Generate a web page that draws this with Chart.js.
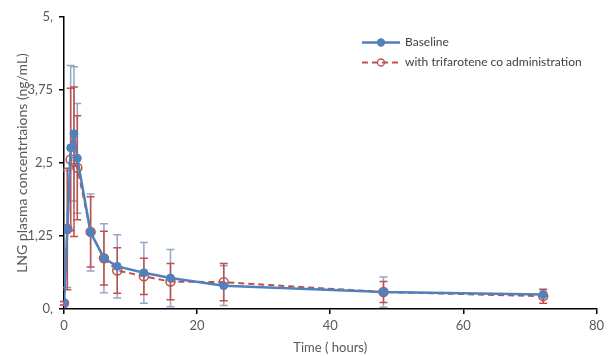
<!DOCTYPE html>
<html><head><meta charset="utf-8">
<script src="https://cdn.jsdelivr.net/npm/chart.js@4"></script>
<style>html,body{margin:0;padding:0;background:#fff}#wrap{width:608px;height:356px;position:relative}</style>
</head><body><div id="wrap"><canvas id="c"></canvas></div>
<script>
const timeHours = [0, 0.5, 1, 1.5, 2, 4, 6, 8, 12, 16, 24, 48, 72];
const baselineMean = [0.10, 1.37, 2.76, 3.00, 2.58, 1.31, 0.87, 0.73, 0.62, 0.53, 0.40, 0.29, 0.25];
const baselineSD   = [0.03, 1.00, 1.41, 1.15, 0.94, 0.66, 0.59, 0.54, 0.52, 0.49, 0.34, 0.26, 0.08];
const trifaroteneMean = [0.10, 1.37, 2.56, 2.52, 2.42, 1.32, 0.87, 0.66, 0.56, 0.47, 0.46, 0.29, 0.22];
const trifaroteneSD   = [0.03, 1.04, 1.22, 1.28, 0.89, 0.60, 0.46, 0.39, 0.31, 0.31, 0.32, 0.18, 0.12];
const seriesNames = ["Baseline", "with trifarotene co administration"];
const yTickValues = [0, 1.25, 2.5, 3.75, 5];
const yTickLabels = ["0,", "1,25", "2,5", "3,75", "5,"];
const xTickValues = [0, 20, 40, 60, 80];
const xTitle = "Time ( hours)";
const yTitle = "LNG plasma concentrtaions (ng/mL)";

const BLUE = '#4f81bd', RED = '#c0504d', BLUE_ERR = '#93a8c4', GREY = '#595959';
const FONT = 'Lato, "Open Sans", sans-serif';

const toPts = (m) => timeHours.map((t, i) => ({x: t, y: m[i]}));

const errorBars = {
  id: 'errorBars',
  beforeDatasetsDraw(chart) {
    const {ctx, scales: {x, y}} = chart;
    chart.data.datasets.forEach((ds) => {
      ctx.save();
      ctx.strokeStyle = ds.errColor;
      ctx.lineWidth = 1.5;
      ctx.setLineDash([]);
      ds.data.forEach((p, i) => {
        const sd = ds.errSD[i];
        const px = x.getPixelForValue(p.x);
        const top = y.getPixelForValue(p.y + sd);
        const bot = y.getPixelForValue(Math.max(0, p.y - sd));
        ctx.beginPath();
        ctx.moveTo(px, top); ctx.lineTo(px, bot);
        ctx.moveTo(px - 4, top); ctx.lineTo(px + 4, top);
        ctx.moveTo(px - 4, bot); ctx.lineTo(px + 4, bot);
        ctx.stroke();
      });
      ctx.restore();
    });
  }
};

const legendPlugin = {
  id: 'customLegend',
  afterDraw(chart) {
    const {ctx} = chart;
    const rows = [42.5, 62.5];
    chart.data.datasets.forEach((ds, i) => {
      const yy = rows[i];
      ctx.save();
      ctx.strokeStyle = ds.borderColor;
      ctx.lineWidth = ds.borderWidth;
      ctx.setLineDash(ds.borderDash || []);
      ctx.beginPath(); ctx.moveTo(362, yy); ctx.lineTo(400, yy); ctx.stroke();
      ctx.setLineDash([]);
      ctx.beginPath(); ctx.arc(381, yy, 3.5, 0, Math.PI * 2);
      ctx.fillStyle = ds.pointBackgroundColor;
      ctx.fill();
      ctx.lineWidth = 1.3;
      ctx.strokeStyle = ds.pointBorderColor;
      ctx.stroke();
      ctx.fillStyle = '#404040';
      ctx.font = '12px ' + FONT;
      ctx.textBaseline = 'middle';
      ctx.fillText(ds.label, 405, yy);
      ctx.restore();
    });
  }
};

new Chart(document.getElementById('c'), {
  type: 'line',
  data: {
    datasets: [
      {
        label: seriesNames[0], data: toPts(baselineMean), errSD: baselineSD, errColor: BLUE_ERR,
        borderColor: BLUE, borderWidth: 2.5, pointRadius: 4, pointBackgroundColor: BLUE,
        pointBorderColor: BLUE, pointBorderWidth: 1, tension: 0, fill: false
      },
      {
        label: seriesNames[1], data: toPts(trifaroteneMean), errSD: trifaroteneSD, errColor: RED,
        borderColor: RED, borderWidth: 2, borderDash: [6, 4], pointRadius: 4.5,
        pointBackgroundColor: 'rgba(255,255,255,0)', pointBorderColor: RED, pointBorderWidth: 1.5,
        tension: 0, fill: false
      }
    ]
  },
  options: {
    responsive: true, maintainAspectRatio: false, animation: false, devicePixelRatio: 1,
    layout: {padding: {top: 17, right: 11, left: 0, bottom: 0}},
    plugins: {legend: {display: false}, tooltip: {enabled: false}},
    scales: {
      x: {
        type: 'linear', min: 0, max: 80,
        afterBuildTicks: (s) => { s.ticks = xTickValues.map(v => ({value: v})); },
        afterFit: (s) => { s.height = 47; },
        ticks: {color: GREY, font: {family: FONT, size: 13}, padding: 4, maxRotation: 0},
        grid: {drawOnChartArea: false, drawTicks: true, tickLength: 5, color: '#000', lineWidth: 1.5},
        border: {color: '#000', width: 1.5},
        title: {display: true, text: xTitle, color: GREY, font: {family: FONT, size: 13}, padding: {top: 0, bottom: 0}}
      },
      y: {
        type: 'linear', min: 0, max: 5,
        afterBuildTicks: (s) => { s.ticks = yTickValues.map(v => ({value: v})); },
        afterFit: (s) => { s.width = 64; },
        ticks: {color: GREY, font: {family: FONT, size: 13}, padding: 6,
          callback: (v, i) => yTickLabels[i]},
        grid: {drawOnChartArea: false, drawTicks: true, tickLength: 5, color: '#000', lineWidth: 1.5},
        border: {color: '#000', width: 1.5},
        title: {display: true, text: yTitle, color: GREY, font: {family: FONT, size: 14}, padding: {top: 14, bottom: 0}}
      }
    }
  },
  plugins: [errorBars, legendPlugin]
});
</script></body></html>
